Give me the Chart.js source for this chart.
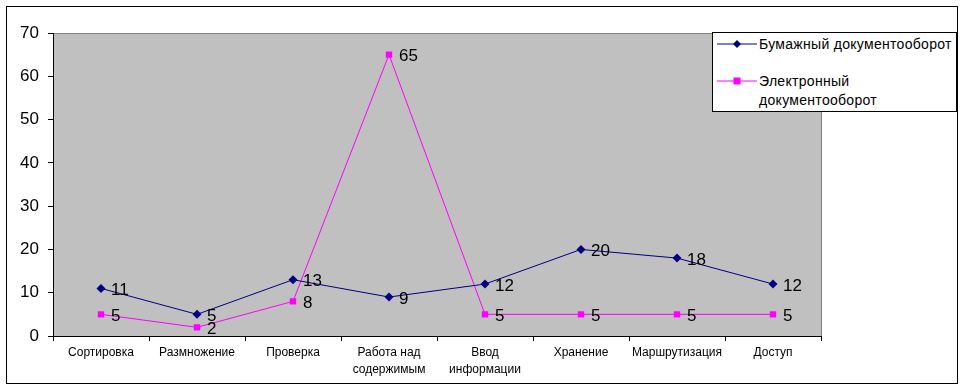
<!DOCTYPE html>
<html>
<head>
<meta charset="utf-8">
<script src="https://cdn.jsdelivr.net/npm/chart.js@4/dist/chart.umd.min.js"></script>
<style>
html,body{margin:0;padding:0;background:#fff;}
#wrap{position:relative;width:965px;height:390px;}
canvas{display:block;}
#legend{position:absolute;left:712px;top:32px;width:245px;height:80px;box-sizing:border-box;border:1px solid #000;background:#fff;font-family:"Liberation Sans",Arial,sans-serif;font-size:14px;letter-spacing:0.3px;color:#000;}
.item{position:absolute;left:2px;}
.item svg{position:absolute;left:0;top:0;}
.item span{position:absolute;left:44px;white-space:nowrap;line-height:19px;}
</style>
</head>
<body>
<div id="wrap">
<canvas id="c" width="965" height="390"></canvas>
<div id="legend">
  <div class="item" style="top:2px;">
    <svg width="44" height="18"><line x1="2" y1="9" x2="42" y2="9" stroke="#000080" stroke-width="1"/><polygon points="22,5 26,9 22,13 18,9" fill="#000080"/></svg>
    <span style="top:0;">Бумажный документооборот</span>
  </div>
  <div class="item" style="top:39px;">
    <svg width="44" height="18"><line x1="2" y1="9" x2="42" y2="9" stroke="#FF00FF" stroke-width="1"/><rect x="18.5" y="5.5" width="7" height="7" fill="#FF00FF"/></svg>
    <span style="top:0;">Электронный<br>документооборот</span>
  </div>
</div>
</div>
<script>
const categories = [
  "Сортировка",
  "Размножение",
  "Проверка",
  ["Работа над", "содержимым"],
  ["Ввод", "информации"],
  "Хранение",
  "Маршрутизация",
  "Доступ"
];
const paperValues = [11, 5, 13, 9, 12, 20, 18, 12];
const electronicValues = [5, 2, 8, 65, 5, 5, 5, 5];
const seriesNames = ["Бумажный документооборот", "Электронный документооборот"];
const yTicks = [0, 10, 20, 30, 40, 50, 60, 70];

const FONT = '"Liberation Sans", Arial, sans-serif';

const bgPlugin = {
  id: 'bg',
  beforeDraw(chart) {
    const ctx = chart.ctx, a = chart.chartArea;
    ctx.save();
    ctx.fillStyle = '#fff';
    ctx.fillRect(0, 0, chart.width, chart.height);
    ctx.strokeStyle = '#000';
    ctx.lineWidth = 1;
    ctx.strokeRect(6.5, 6.5, 951, 377);
    ctx.fillStyle = '#C0C0C0';
    ctx.fillRect(a.left, a.top, a.right - a.left, a.bottom - a.top);
    ctx.strokeStyle = '#808080';
    ctx.beginPath();
    ctx.moveTo(a.left, a.top + 0.5);
    ctx.lineTo(a.right + 0.5, a.top + 0.5);
    ctx.lineTo(a.right + 0.5, a.bottom);
    ctx.stroke();
    ctx.restore();
  }
};

const labelPlugin = {
  id: 'vals',
  afterDatasetsDraw(chart) {
    const ctx = chart.ctx;
    ctx.save();
    ctx.font = '17px ' + FONT;
    ctx.fillStyle = '#000';
    ctx.textBaseline = 'middle';
    ctx.textAlign = 'left';
    chart.data.datasets.forEach((ds, i) => {
      const meta = chart.getDatasetMeta(i);
      meta.data.forEach((pt, j) => {
        ctx.fillText(String(ds.data[j]), pt.x + 10, pt.y + 2);
      });
    });
    ctx.restore();
  }
};

new Chart(document.getElementById('c'), {
  type: 'line',
  data: {
    labels: categories,
    datasets: [
      {
        label: seriesNames[0],
        data: paperValues,
        borderColor: '#000080',
        backgroundColor: '#000080',
        borderWidth: 1,
        pointStyle: 'rectRot',
        pointRadius: 4.5,
        pointBorderWidth: 0,
        tension: 0
      },
      {
        label: seriesNames[1],
        data: electronicValues,
        borderColor: '#FF00FF',
        backgroundColor: '#FF00FF',
        borderWidth: 1,
        pointStyle: 'rect',
        pointRadius: 4.5,
        pointBorderWidth: 0,
        tension: 0
      }
    ]
  },
  options: {
    responsive: false,
    animation: false,
    layout: { padding: { left: 0, top: 33, right: 144, bottom: 0 } },
    plugins: { legend: { display: false }, tooltip: { enabled: false } },
    scales: {
      x: {
        offset: true,
        grid: { offset: true, drawOnChartArea: false, drawTicks: true, tickLength: 5, color: '#000' },
        border: { color: '#000', width: 1 },
        ticks: { color: '#000', font: { family: FONT, size: 12, lineHeight: 1.4 }, padding: 3, maxRotation: 0, autoSkip: false },
        afterFit(s) { s.height = 54; }
      },
      y: {
        min: 0, max: 70,
        afterBuildTicks(s) { s.ticks = yTicks.map(v => ({ value: v })); },
        grid: { drawOnChartArea: false, drawTicks: true, tickLength: 5, color: '#000' },
        border: { color: '#000', width: 1 },
        ticks: { color: '#000', font: { family: FONT, size: 17 }, padding: 9 },
        afterFit(s) { s.width = 53; }
      }
    }
  },
  plugins: [bgPlugin, labelPlugin]
});
</script>
</body>
</html>
